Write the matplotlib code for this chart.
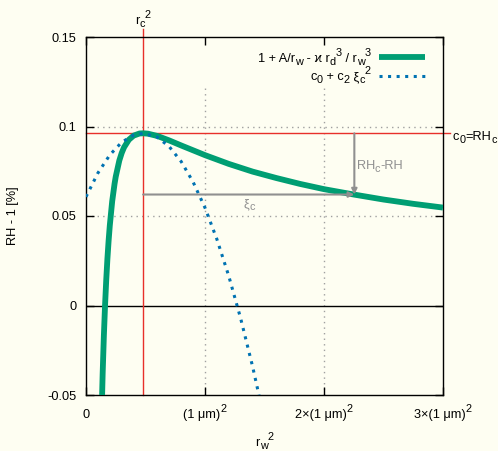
import numpy as np
import matplotlib
matplotlib.use("Agg")
import matplotlib.pyplot as plt
import matplotlib.transforms as mtransforms

plt.rcParams['font.family'] = ['Liberation Sans', 'DejaVu Sans']

# values
# Koehler curve: RH - 1 [%] against r_w^2 [(1 um)^2]
kohler_x = [0.12, 0.13, 0.14, 0.15, 0.16, 0.17, 0.18, 0.19, 0.20, 0.22, 0.24, 0.25,
            0.28, 0.30, 0.32, 0.36, 0.40, 0.45, 0.48, 0.52, 0.60, 0.70, 0.80, 0.90,
            1.00, 1.20, 1.40, 1.60, 1.80, 2.00, 2.25, 2.50, 2.75, 3.00]
kohler_y = [-0.096, -0.064, -0.038, -0.0172, 0.0, 0.0142, 0.0262, 0.0362, 0.0447, 0.0582,
            0.068, 0.072, 0.081, 0.0852, 0.0884, 0.0926, 0.0949, 0.0961, 0.0962, 0.096,
            0.0947, 0.0922, 0.0894, 0.0867, 0.084, 0.0791, 0.0748, 0.0712, 0.0679, 0.065,
            0.062, 0.0592, 0.0568, 0.0547]

# parabola c0 + c2 xi_c^2
parab_x = [0.0, 0.1, 0.2, 0.3, 0.4, 0.48, 0.6, 0.7, 0.8, 0.9, 1.0, 1.1, 1.2, 1.3, 1.4, 1.5]
parab_y = [0.0607, 0.074, 0.0841, 0.0912, 0.0952, 0.0962, 0.094, 0.0887, 0.0804, 0.069,
           0.0546, 0.037, 0.0164, -0.0073, -0.0341, -0.064]

rc2 = 0.48      # r_c^2
rhc = 0.0962    # c0 = RH_c
x_arrow = 2.255
y_arrow = 0.062

xticks = [0, 1, 2, 3]
xticklabels = [[('0', 'n')],
               [('(1 μm)', 'n'), ('2', 'sup')],
               [('2×(1 μm)', 'n'), ('2', 'sup')],
               [('3×(1 μm)', 'n'), ('2', 'sup')]]
yticks = [-0.05, 0, 0.05, 0.1, 0.15]
yticklabels = ['-0.05', '0', '0.05', '0.1', '0.15']

FS = 9.2
bg = '#fefef2'
fig = plt.figure(figsize=(4.98, 4.51), dpi=100, facecolor=bg)
ax = fig.add_axes([86/498, 56/451, 357/498, 358/451])
renderer = fig.canvas.get_renderer()


def text_width(s, size):
    # width in points, bars keep leading/trailing spaces in the measure
    t1 = fig.text(0, 0, '|' + s + '|', fontsize=size)
    t2 = fig.text(0, 0, '||', fontsize=size)
    w = t1.get_window_extent(renderer).width - t2.get_window_extent(renderer).width
    t1.remove()
    t2.remove()
    return w * 72 / fig.dpi


def rich(x, y, parts, transform, ha='left', color='black', size=FS):
    # gnuplot-like enhanced text: sub/superscripts placed one after the other
    items = []
    for s, kind in parts:
        fs = size if kind == 'n' else size * 0.85
        dy = {'n': 0, 'sub': -0.25 * size, 'sup': 0.45 * size}[kind]
        items.append((s, fs, dy, text_width(s, fs)))
    total = sum(i[3] for i in items)
    cur = {'left': 0, 'center': -total / 2, 'right': -total}[ha]
    for s, fs, dy, w in items:
        tr = mtransforms.offset_copy(transform, fig=fig, x=cur, y=dy, units='points')
        ax.text(x, y, s, fontsize=fs, color=color, transform=tr, ha='left',
                va='baseline', clip_on=False)
        cur += w


ax.set_facecolor(bg)
ax.set_xlim(0, 3)
ax.set_ylim(-0.05, 0.15)

# grid
for gx in [1, 2]:
    ax.plot([gx, gx], [-0.05, 0.122], color='#a0a0a0', lw=1, ls=(0, (1, 3)), zorder=1)
for gy in [0.05, 0.1]:
    ax.axhline(gy, color='#a0a0a0', lw=1, ls=(0, (1, 3)), zorder=1)
ax.axhline(0, color='black', lw=1, zorder=1)

# red reference lines
ax.plot([rc2, rc2], [-0.05, 0.1543], color='#e8302a', lw=1, clip_on=False, zorder=2)
ax.plot([0, 3.06], [rhc, rhc], color='#e8302a', lw=1, clip_on=False, zorder=2)

ax.plot(kohler_x, kohler_y, color='#009e73', lw=4.2, solid_capstyle='butt',
        solid_joinstyle='round', zorder=3)
ax.plot(parab_x, parab_y, color='#0072b2', lw=2.2, ls=(0, (1, 1.8)), zorder=4)

# key
ax.plot([0.821, 0.950], [0.944, 0.944], transform=ax.transAxes, color='#009e73',
        lw=4.2, solid_capstyle='butt')
ax.plot([0.821, 0.950], [0.891, 0.891], transform=ax.transAxes, color='#0072b2',
        lw=2.2, ls=(0, (1, 1.8)))
rich(0.797, (395 - 61.7) / 358,
     [('1 + A/r', 'n'), ('w', 'sub'), (' - ϰ r', 'n'), ('d', 'sub'), ('3', 'sup'),
      (' / r', 'n'), ('w', 'sub'), ('3', 'sup')], ax.transAxes, ha='right')
rich(0.797, (395 - 80) / 358,
     [('c', 'n'), ('0', 'sub'), (' + c', 'n'), ('2', 'sub'), (' ξ', 'n'), ('c', 'sub'),
      ('2', 'sup')], ax.transAxes, ha='right')

# gray arrows
ax.annotate('', xy=(x_arrow, y_arrow), xytext=(rc2, y_arrow),
            arrowprops=dict(arrowstyle='-|>', color='#909090', lw=1.5,
                            mutation_scale=8, shrinkA=0, shrinkB=0), zorder=5)
ax.annotate('', xy=(x_arrow, y_arrow), xytext=(x_arrow, rhc),
            arrowprops=dict(arrowstyle='-|>', color='#909090', lw=1.5,
                            mutation_scale=8, shrinkA=0, shrinkB=0), zorder=5)
rich(2.275, 0.0763, [('RH', 'n'), ('c', 'sub'), ('-RH', 'n')], ax.transData,
     color='#909090')
rich(1.322, 0.055, [('ξ', 'n'), ('c', 'sub')], ax.transData, color='#909090')

rich(rc2, 0.1573, [('r', 'n'), ('c', 'sub'), ('2', 'sup')], ax.transData, ha='center')
rich(3.084, 0.0925, [('c', 'n'), ('0', 'sub'), ('=RH', 'n'), ('c', 'sub')], ax.transData)

# ticks
ax.set_xticks(xticks)
ax.set_yticks(yticks)
ax.set_yticklabels(yticklabels)
ax.tick_params(direction='in', length=6, width=1, top=True, right=True,
               labelsize=FS, pad=7, labelbottom=False)
for s in ax.spines.values():
    s.set_linewidth(1)
xt = mtransforms.blended_transform_factory(ax.transData, ax.transAxes)
for xv, lab in zip(xticks, xticklabels):
    rich(xv, (395 - 418) / 358, lab, xt, ha='center')

# axis titles
rich(0.5, (395 - 446) / 358, [('r', 'n'), ('w', 'sub'), ('2', 'sup')], ax.transAxes,
     ha='center')
ax.set_ylabel('RH - 1 [%]', fontsize=FS)
ax.yaxis.label.set_va('center')
ax.yaxis.set_label_coords((13 - 86) / 357, 0.5)

fig.savefig('out.png', dpi=100, facecolor=bg)
